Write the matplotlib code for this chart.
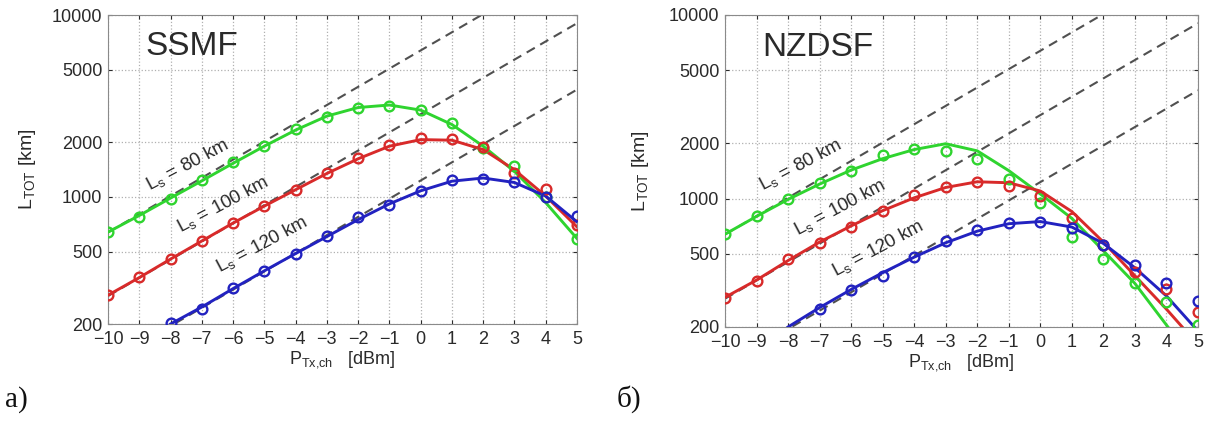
import numpy as np
import matplotlib
matplotlib.use('Agg')
import matplotlib.pyplot as plt
from matplotlib.ticker import FixedLocator, NullLocator

plt.rcParams['font.family'] = ['Liberation Sans', 'DejaVu Sans']
plt.rcParams['mathtext.fontset'] = 'custom'
plt.rcParams['mathtext.rm'] = 'Liberation Sans'

# launch power per channel, dBm
p_dbm = list(range(-10, 6))
blue_fit_x = list(range(-8, 6))

# ---- SSMF (a) ----
ssmf_green_pts = [640, 776, 975, 1240, 1556, 1905, 2365, 2754, 3085, 3160, 3006, 2553, 1860, 1480, 1000, 588]
ssmf_red_pts = [290, 363, 456, 573, 720, 893, 1092, 1355, 1637, 1931, 2110, 2080, 1870, 1350, 1100, 702]
ssmf_blue_x = list(range(-8, 6))
ssmf_blue_pts = [203, 242, 316, 393, 486, 611, 776, 904, 1079, 1240, 1260, 1213, 1000, 787]

ssmf_green_fit = [640, 790, 985, 1225, 1530, 1900, 2330, 2780, 3100, 3200, 3000, 2500, 1900, 1380, 930, 590]
ssmf_red_fit = [288, 360, 455, 572, 718, 890, 1095, 1345, 1620, 1900, 2065, 2050, 1820, 1410, 1010, 684]
ssmf_blue_fit = [200, 248, 313, 392, 488, 605, 750, 915, 1080, 1220, 1270, 1200, 1010, 729]

# ---- NZDSF (b) ----
nzdsf_green_pts = [641, 803, 995, 1216, 1413, 1729, 1862, 1816, 1643, 1279, 946, 618, 469, 347, 273, 205]
nzdsf_red_pts = [288, 356, 469, 572, 700, 855, 1047, 1155, 1230, 1172, 1033, 783, 558, 398, 322, 241]
nzdsf_blue_x = list(range(-7, 6))
nzdsf_blue_pts = [250, 318, 378, 481, 587, 674, 736, 745, 692, 558, 435, 347, 277]

nzdsf_green_fit = [640, 800, 990, 1200, 1430, 1650, 1850, 1990, 1820, 1420, 1060, 780, 520, 345, 205, 120]
nzdsf_red_fit = [290, 360, 460, 580, 710, 860, 1010, 1150, 1235, 1220, 1100, 850, 580, 380, 250, 160]
nzdsf_blue_fit = [200, 255, 320, 395, 480, 575, 665, 730, 750, 700, 570, 420, 295, 190]

# linear-regime asymptotes (two end points each)
asym_x = [-10, 5]
asym_80 = [638, 20200]
asym_100 = [285, 9010]
asym_120 = [123, 3890]

span_labels = ['80', '100', '120']

c_green = '#2fd42f'
c_red = '#d82a2a'
c_blue = '#2222c0'
c_dash = '#505050'
c_text = '#2a2a2a'

fig = plt.figure(figsize=(12.16, 4.23), dpi=100)
ax1 = fig.add_axes([0.0888, 0.234, 0.3857, 0.7305])
ax2 = fig.add_axes([0.5962, 0.227, 0.389, 0.7376])


def draw_panel(ax, title, green_pts, red_pts, blue_x, blue_pts,
               green_fit, red_fit, blue_fit, label_pos, ylabpad):
    for yy in [asym_80, asym_100, asym_120]:
        ax.plot(asym_x, yy, color=c_dash, lw=1.5, dashes=(4.5, 3), zorder=2)
    ax.plot(p_dbm, green_fit, color=c_green, lw=2.1, zorder=3)
    ax.plot(p_dbm, red_fit, color=c_red, lw=2.1, zorder=3)
    ax.plot(blue_fit_x, blue_fit, color=c_blue, lw=2.1, zorder=3)
    ax.plot(p_dbm, green_pts, 'o', mfc='none', mec=c_green, mew=1.7, ms=7, zorder=4)
    ax.plot(p_dbm, red_pts, 'o', mfc='none', mec=c_red, mew=1.7, ms=7, zorder=4)
    ax.plot(blue_x, blue_pts, 'o', mfc='none', mec=c_blue, mew=1.7, ms=7, zorder=4)

    ax.set_yscale('log')
    ax.set_xlim(-10, 5)
    ax.set_ylim(200, 10000)
    ax.set_xticks(p_dbm)
    ax.set_xticklabels(['\u2212%d' % -v if v < 0 else str(v) for v in p_dbm])
    ax.yaxis.set_major_locator(FixedLocator([200, 500, 1000, 2000, 5000, 10000]))
    ax.yaxis.set_minor_locator(NullLocator())
    ax.set_yticklabels(['200', '500', '1000', '2000', '5000', '10000'])
    ax.grid(True, ls=':', color='#b0b0b0', lw=0.9)
    ax.tick_params(direction='in', length=3, labelsize=13, colors=c_text,
                   top=True, right=True)
    ax.tick_params(axis='x', pad=5)
    ax.tick_params(axis='y', pad=4)
    for s in ax.spines.values():
        s.set_color('#8a8a8a')
    ax.set_xlabel(r'$\mathregular{P_{Tx{,}ch}}$   [dBm]', fontsize=13, color=c_text, labelpad=1)
    ax.set_ylabel(r'$\mathregular{L_{TOT}}$ [km]', fontsize=14, color=c_text, labelpad=ylabpad)
    ax.text(0.079, 0.87, title, transform=ax.transAxes, fontsize=24,
            color=c_text, va='baseline', ha='left')
    for (lx, ly), lab in zip(label_pos, span_labels):
        ax.text(lx, ly, r'$\mathregular{L_s}$ = ' + lab + ' km', fontsize=13.5,
                color=c_text, rotation=28, rotation_mode='anchor',
                ha='center', va='center', zorder=5)


draw_panel(ax1, 'SSMF', ssmf_green_pts, ssmf_red_pts, ssmf_blue_x, ssmf_blue_pts,
           ssmf_green_fit, ssmf_red_fit, ssmf_blue_fit,
           [(-7.47, 1500), (-6.32, 904), (-5.08, 545)], 10)
draw_panel(ax2, 'NZDSF', nzdsf_green_pts, nzdsf_red_pts, nzdsf_blue_x, nzdsf_blue_pts,
           nzdsf_green_fit, nzdsf_red_fit, nzdsf_blue_fit,
           [(-7.62, 1523), (-6.35, 900), (-5.15, 538)], 13)

fig.text(0.004, 0.038, '\u0430)', fontsize=21, family='Liberation Serif', color='#111111')
fig.text(0.507, 0.038, '\u0431)', fontsize=21, family='Liberation Serif', color='#111111')

fig.savefig('out.png', dpi=100)
